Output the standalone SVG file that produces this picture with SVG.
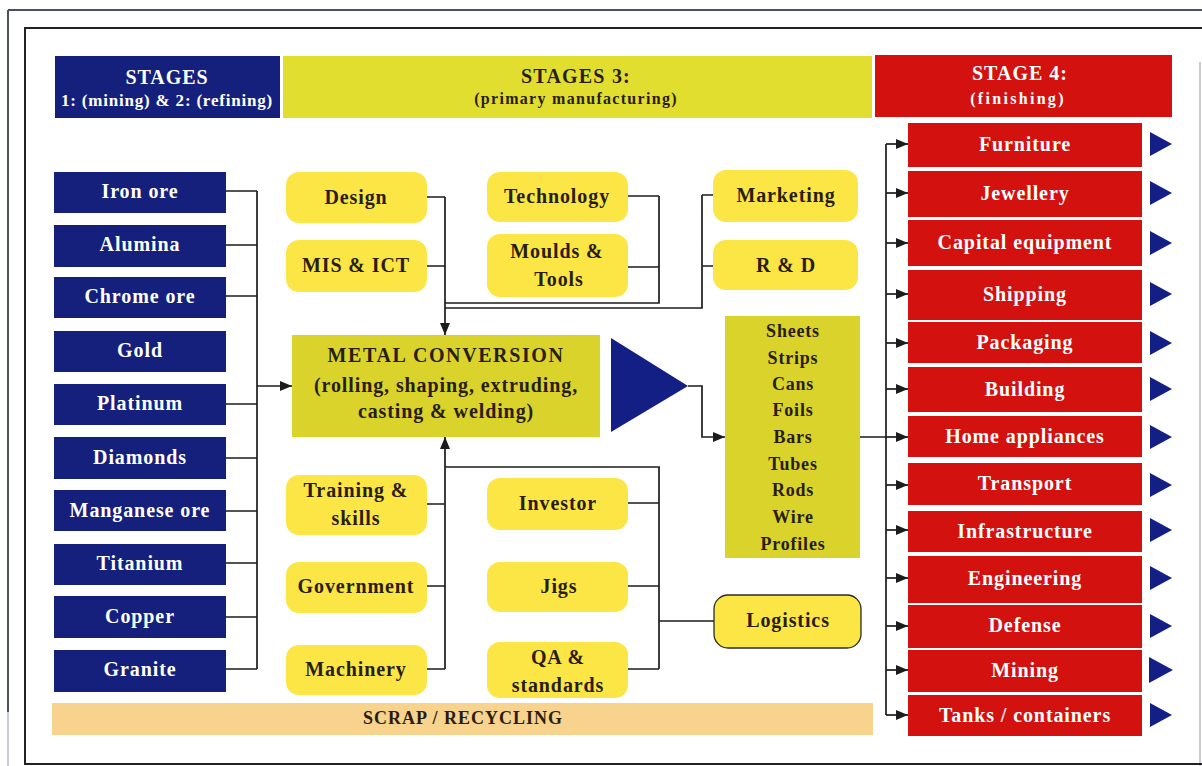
<svg xmlns="http://www.w3.org/2000/svg" width="1202" height="766" viewBox="0 0 1202 766">
  <defs>
    <style>
      .nv { fill: #14207c; }
      .rd { fill: #d3110f; }
      .yl { fill: #fce646; }
      .ol { fill: #d9d32b; }
      .hy { fill: #e2de30; }
      .scrap { fill: #f8d38e; }
      .tri { fill: #141f86; }
      .t { font-family: "Liberation Serif", "Times New Roman", serif; font-weight: bold; text-anchor: middle; }
      .w { fill: #ffffff; font-size: 20px; letter-spacing: 0.9px; }
      .d { fill: #2a1d0c; font-size: 20px; letter-spacing: 0.9px; }
      .sm { font-size: 17px; letter-spacing: 0.8px; }
      .ps { fill: #2a1d0c; font-size: 18px; letter-spacing: 0.8px; }
      .ln { fill: none; stroke: #1c1c1c; stroke-width: 1.7; }
      .outer { fill: none; stroke: #4a5262; stroke-width: 2; }
      .inner { fill: none; stroke: #222222; stroke-width: 2; }
      .edge { fill: none; stroke: #b8bcc4; stroke-width: 1.5; }
    </style>
    <marker id="arrow" markerUnits="userSpaceOnUse" markerWidth="12" markerHeight="10" refX="12" refY="5" orient="auto">
      <path d="M0,0 L12,5 L0,10 z" fill="#1c1c1c"/>
    </marker>
  </defs>

  <rect width="1202" height="766" fill="#ffffff"/>

  <!-- page frame -->
  <g id="frame">
    <path class="outer" d="M8,10 H1202 M8,10 V712"/>
    <path class="edge" d="M8,712 V766 M1200,62 V766"/>
    <path class="inner" d="M1202,28 H25 V764 H1202"/>
  </g>

  <!-- stage headers -->
  <g id="header-stage12">
    <rect class="nv" x="55" y="56" width="225" height="62"/>
    <text class="t w" x="167" y="84">STAGES</text>
    <text class="t w sm" x="167" y="106">1: (mining) &amp; 2: (refining)</text>
  </g>
  <g id="header-stage3">
    <rect class="hy" x="283" y="56" width="589" height="62"/>
    <text class="t d" x="576" y="83" style="letter-spacing:1.2px">STAGES 3:</text>
    <text class="t d sm" x="576" y="104" style="font-size:16px;letter-spacing:1.3px">(primary manufacturing)</text>
  </g>
  <g id="header-stage4">
    <rect class="rd" x="875" y="55" width="297" height="62"/>
    <text class="t w" x="1020" y="80" style="letter-spacing:1px">STAGE 4:</text>
    <text class="t w sm" x="1018" y="104" style="font-size:16px;letter-spacing:2.3px">(finishing)</text>
  </g>

  <!-- connectors -->
  <g id="connectors">
    <!-- raw materials into the bus -->
    <path class="ln" d="M226,191 H257 M226,245 H257 M226,296 H257 M226,404 H257 M226,458 H257 M226,511 H257 M226,563 H257 M226,617 H257 M226,669 H257 M257,191 V669"/>
    <path class="ln" d="M257,386 H292" marker-end="url(#arrow)"/>
    <!-- upper support groups -->
    <path class="ln" d="M427,197 H445 M427,266 H445"/>
    <path class="ln" d="M445,197 V335" marker-end="url(#arrow)"/>
    <path class="ln" d="M628,196 H659 M628,267 H659 M659,196 V303 H445"/>
    <path class="ln" d="M713,195 H702 M713,266 H702 M702,195 V308 H445"/>
    <!-- lower support groups -->
    <path class="ln" d="M427,504 H445 M427,586 H445 M427,669 H445"/>
    <path class="ln" d="M445,669 V437" marker-end="url(#arrow)"/>
    <path class="ln" d="M445,467 H659 V669 M628,503 H659 M628,586 H659 M628,669 H659 M659,621 H714"/>
    <!-- conversion to products -->
    <path class="ln" d="M688,386 H702 V437 H725" marker-end="url(#arrow)"/>
    <!-- products to finishing sectors -->
    <path class="ln" d="M860,437 H886 M886,144 V715"/>
    <path class="ln" marker-end="url(#arrow)" d="M886,144 H908"/>
    <path class="ln" marker-end="url(#arrow)" d="M886,193 H908"/>
    <path class="ln" marker-end="url(#arrow)" d="M886,243 H908"/>
    <path class="ln" marker-end="url(#arrow)" d="M886,294 H908"/>
    <path class="ln" marker-end="url(#arrow)" d="M886,343 H908"/>
    <path class="ln" marker-end="url(#arrow)" d="M886,389 H908"/>
    <path class="ln" marker-end="url(#arrow)" d="M886,437 H908"/>
    <path class="ln" marker-end="url(#arrow)" d="M886,485 H908"/>
    <path class="ln" marker-end="url(#arrow)" d="M886,530 H908"/>
    <path class="ln" marker-end="url(#arrow)" d="M886,578 H908"/>
    <path class="ln" marker-end="url(#arrow)" d="M886,626 H908"/>
    <path class="ln" marker-end="url(#arrow)" d="M886,670 H908"/>
    <path class="ln" marker-end="url(#arrow)" d="M886,715 H908"/>
  </g>

  <!-- raw materials -->
  <g id="iron-ore"><rect class="nv" x="54" y="172" width="172" height="41"/><text class="t w" x="140" y="198">Iron ore</text></g>
  <g id="alumina"><rect class="nv" x="54" y="225" width="172" height="42"/><text class="t w" x="140" y="251">Alumina</text></g>
  <g id="chrome-ore"><rect class="nv" x="54" y="277" width="172" height="41"/><text class="t w" x="140" y="303">Chrome ore</text></g>
  <g id="gold"><rect class="nv" x="54" y="331" width="172" height="41"/><text class="t w" x="140" y="357">Gold</text></g>
  <g id="platinum"><rect class="nv" x="54" y="384" width="172" height="41"/><text class="t w" x="140" y="410">Platinum</text></g>
  <g id="diamonds"><rect class="nv" x="54" y="437" width="172" height="42"/><text class="t w" x="140" y="464">Diamonds</text></g>
  <g id="manganese-ore"><rect class="nv" x="54" y="490" width="172" height="41"/><text class="t w" x="140" y="517">Manganese ore</text></g>
  <g id="titanium"><rect class="nv" x="54" y="544" width="172" height="41"/><text class="t w" x="140" y="570">Titanium</text></g>
  <g id="copper"><rect class="nv" x="54" y="596" width="172" height="42"/><text class="t w" x="140" y="623">Copper</text></g>
  <g id="granite"><rect class="nv" x="54" y="650" width="172" height="42"/><text class="t w" x="140" y="676">Granite</text></g>

  <!-- support functions -->
  <g id="design"><rect class="yl" x="286" y="172" width="141" height="51" rx="13"/><text class="t d" x="356" y="204">Design</text></g>
  <g id="mis-ict"><rect class="yl" x="286" y="240" width="141" height="52" rx="13"/><text class="t d" x="356" y="272">MIS &amp; ICT</text></g>
  <g id="technology"><rect class="yl" x="487" y="172" width="141" height="50" rx="13"/><text class="t d" x="557" y="203">Technology</text></g>
  <g id="moulds-tools"><rect class="yl" x="487" y="234" width="141" height="63" rx="13"/><text class="t d" x="557" y="258">Moulds &amp;</text><text class="t d" x="559" y="286">Tools</text></g>
  <g id="marketing"><rect class="yl" x="713" y="170" width="145" height="52" rx="13"/><text class="t d" x="786" y="202">Marketing</text></g>
  <g id="r-and-d"><rect class="yl" x="713" y="240" width="145" height="50" rx="13"/><text class="t d" x="786" y="272">R &amp; D</text></g>
  <g id="training-skills"><rect class="yl" x="286" y="475" width="141" height="60" rx="13"/><text class="t d" x="356" y="497">Training &amp;</text><text class="t d" x="356" y="525">skills</text></g>
  <g id="government"><rect class="yl" x="286" y="562" width="141" height="51" rx="13"/><text class="t d" x="356" y="593">Government</text></g>
  <g id="machinery"><rect class="yl" x="286" y="645" width="141" height="50" rx="13"/><text class="t d" x="356" y="676">Machinery</text></g>
  <g id="investor"><rect class="yl" x="487" y="478" width="141" height="52" rx="13"/><text class="t d" x="558" y="510">Investor</text></g>
  <g id="jigs"><rect class="yl" x="487" y="562" width="141" height="50" rx="13"/><text class="t d" x="559" y="593">Jigs</text></g>
  <g id="qa-standards"><rect class="yl" x="487" y="642" width="141" height="56" rx="13"/><text class="t d" x="558" y="664">QA &amp;</text><text class="t d" x="558" y="692">standards</text></g>
  <g id="logistics"><rect class="yl" x="714" y="595" width="147" height="53" rx="14" stroke="#2a2a2a" stroke-width="1.3"/><text class="t d" x="788" y="627">Logistics</text></g>

  <!-- metal conversion -->
  <g id="metal-conversion">
    <rect class="ol" x="292" y="335" width="308" height="102"/>
    <text class="t d" x="446" y="362" style="letter-spacing:1.6px">METAL CONVERSION</text>
    <text class="t d" x="446" y="392">(rolling, shaping, extruding,</text>
    <text class="t d" x="446" y="418">casting &amp; welding)</text>
  </g>
  <g id="conversion-arrow">
    <polygon class="tri" points="611,338 688,386 611,432"/>
  </g>

  <!-- primary products -->
  <g id="products">
    <rect class="ol" x="725" y="316" width="135" height="242"/>
    <text class="t ps" x="793" y="337">Sheets</text>
    <text class="t ps" x="793" y="364">Strips</text>
    <text class="t ps" x="793" y="390">Cans</text>
    <text class="t ps" x="793" y="416">Foils</text>
    <text class="t ps" x="793" y="443">Bars</text>
    <text class="t ps" x="793" y="470">Tubes</text>
    <text class="t ps" x="793" y="496">Rods</text>
    <text class="t ps" x="793" y="523">Wire</text>
    <text class="t ps" x="793" y="550">Profiles</text>
  </g>

  <!-- finishing sectors -->
  <g id="furniture"><rect class="rd" x="908" y="123" width="234" height="44"/><text class="t w" x="1025" y="151">Furniture</text></g>
  <g id="jewellery"><rect class="rd" x="908" y="171" width="234" height="46"/><text class="t w" x="1025" y="200">Jewellery</text></g>
  <g id="capital-equipment"><rect class="rd" x="908" y="220" width="234" height="46"/><text class="t w" x="1025" y="249">Capital equipment</text></g>
  <g id="shipping"><rect class="rd" x="908" y="270" width="234" height="50"/><text class="t w" x="1025" y="301">Shipping</text></g>
  <g id="packaging"><rect class="rd" x="908" y="322" width="234" height="41"/><text class="t w" x="1025" y="349">Packaging</text></g>
  <g id="building"><rect class="rd" x="908" y="367" width="234" height="45"/><text class="t w" x="1025" y="396">Building</text></g>
  <g id="home-appliances"><rect class="rd" x="908" y="416" width="234" height="41"/><text class="t w" x="1025" y="443">Home appliances</text></g>
  <g id="transport"><rect class="rd" x="908" y="463" width="234" height="42"/><text class="t w" x="1025" y="490">Transport</text></g>
  <g id="infrastructure"><rect class="rd" x="908" y="511" width="234" height="41"/><text class="t w" x="1025" y="538">Infrastructure</text></g>
  <g id="engineering"><rect class="rd" x="908" y="556" width="234" height="47"/><text class="t w" x="1025" y="585">Engineering</text></g>
  <g id="defense"><rect class="rd" x="908" y="605" width="234" height="43"/><text class="t w" x="1025" y="632">Defense</text></g>
  <g id="mining"><rect class="rd" x="908" y="650" width="234" height="42"/><text class="t w" x="1025" y="677">Mining</text></g>
  <g id="tanks-containers"><rect class="rd" x="908" y="695" width="234" height="41"/><text class="t w" x="1025" y="722">Tanks / containers</text></g>

  <!-- outlet markers -->
  <g id="outlets" class="tri">
    <polygon points="1150,132 1172,144 1150,156"/>
    <polygon points="1150,181 1172,193 1150,205"/>
    <polygon points="1150,231 1172,243 1150,255"/>
    <polygon points="1150,282 1172,294 1150,306"/>
    <polygon points="1150,331 1172,343 1150,355"/>
    <polygon points="1150,377 1172,389 1150,401"/>
    <polygon points="1150,425 1172,437 1150,449"/>
    <polygon points="1150,473 1172,485 1150,497"/>
    <polygon points="1150,518 1172,530 1150,542"/>
    <polygon points="1150,566 1172,578 1150,590"/>
    <polygon points="1150,614 1172,626 1150,638"/>
    <polygon points="1149,657 1173,670 1149,683"/>
    <polygon points="1150,703 1172,715 1150,727"/>
  </g>

  <!-- scrap / recycling band -->
  <g id="scrap-recycling">
    <rect class="scrap" x="52" y="703" width="821" height="32"/>
    <text class="t d" x="463" y="724" style="font-size:18px;letter-spacing:1px">SCRAP / RECYCLING</text>
  </g>
</svg>
